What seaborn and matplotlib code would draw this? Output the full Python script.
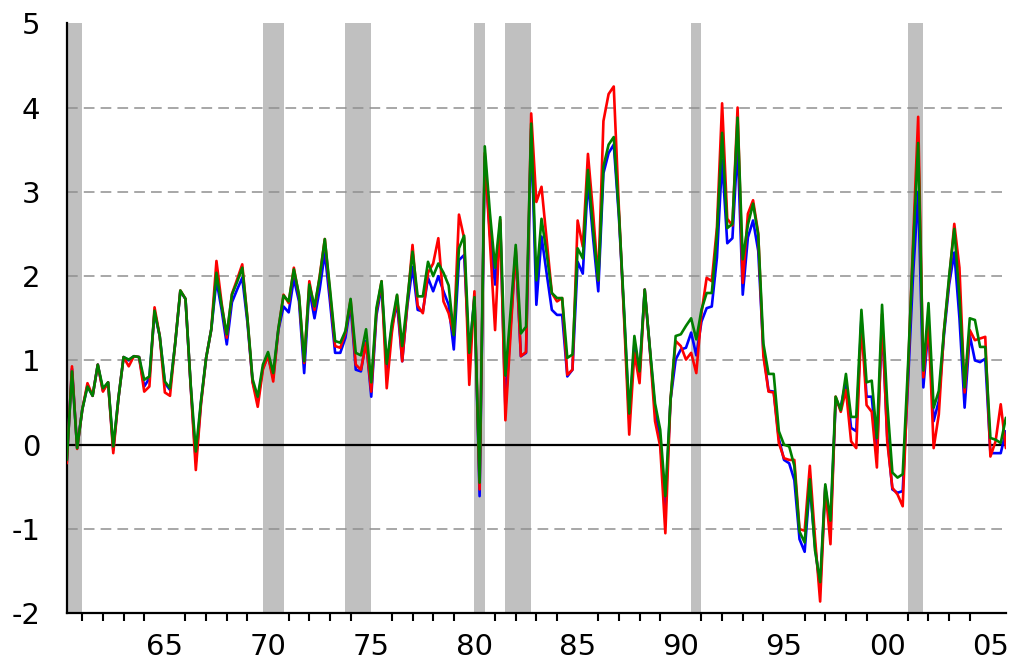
import numpy as np
import pandas as pd
import seaborn as sns
import matplotlib.pyplot as plt
from matplotlib.ticker import FixedLocator, FixedFormatter

# quarterly observations, 1960Q2 .. 2005Q4
first_quarter = 1960.25

blue = [-0.20, 0.90, -0.04, 0.42, 0.70, 0.58, 0.95, 0.64, 0.74, -0.06,
        0.55, 1.04, 1.00, 1.05, 1.04, 0.69, 0.79, 1.57, 1.29, 0.73,
        0.65, 1.20, 1.82, 1.73, 0.70, -0.20, 0.50, 1.03, 1.37, 1.95,
        1.60, 1.19, 1.69, 1.84, 1.98, 1.45, 0.75, 0.52, 0.91, 1.05,
        0.80, 1.36, 1.64, 1.57, 1.97, 1.70, 0.85, 1.84, 1.50, 1.84,
        2.28, 1.70, 1.09, 1.09, 1.27, 1.66, 0.89, 0.87, 1.23, 0.57,
        1.53, 1.88, 0.90, 1.40, 1.68, 0.99, 1.65, 2.11, 1.60, 1.58,
        1.98, 1.82, 2.00, 1.82, 1.66, 1.13, 2.19, 2.25, 1.05, 1.76,
        -0.61, 3.42, 2.50, 1.90, 2.63, 0.43, 1.40, 2.30, 1.05, 1.09,
        3.75, 1.66, 2.47, 2.03, 1.60, 1.54, 1.54, 0.81, 0.89, 2.17,
        2.03, 3.14, 2.45, 1.82, 3.22, 3.46, 3.56, 2.70, 1.55, 0.30,
        1.20, 0.85, 1.84, 1.13, 0.42, 0.06, -0.77, 0.53, 1.01, 1.13,
        1.15, 1.33, 1.06, 1.46, 1.62, 1.64, 2.22, 3.38, 2.39, 2.45,
        3.55, 1.78, 2.46, 2.66, 2.30, 1.10, 0.64, 0.63, 0.07, -0.18,
        -0.22, -0.42, -1.12, -1.27, -0.47, -1.20, -1.71, -0.50, -1.00, 0.50,
        0.45, 0.75, 0.20, 0.16, 1.50, 0.57, 0.57, -0.10, 1.45, 0.10,
        -0.53, -0.57, -0.55, 0.70, 2.00, 3.00, 0.68, 1.40, 0.28, 0.52,
        1.30, 1.90, 2.28, 1.50, 0.44, 1.30, 1.00, 0.98, 1.02, -0.10,
        -0.10, -0.10, 0.16]

red = [-0.22, 0.93, -0.05, 0.42, 0.73, 0.58, 0.95, 0.63, 0.74, -0.10,
       0.55, 1.04, 0.93, 1.05, 1.04, 0.63, 0.69, 1.63, 1.29, 0.62,
       0.58, 1.20, 1.83, 1.73, 0.70, -0.30, 0.48, 1.03, 1.37, 2.18,
       1.68, 1.27, 1.79, 1.96, 2.14, 1.50, 0.74, 0.45, 0.89, 1.06,
       0.75, 1.37, 1.78, 1.68, 2.10, 1.76, 0.97, 1.94, 1.60, 2.00,
       2.44, 1.80, 1.17, 1.15, 1.33, 1.72, 0.95, 0.89, 1.21, 0.63,
       1.58, 1.94, 0.67, 1.33, 1.77, 0.99, 1.68, 2.37, 1.65, 1.56,
       2.04, 2.15, 2.45, 1.70, 1.56, 1.31, 2.73, 2.45, 0.71, 1.82,
       -0.53, 3.46, 2.40, 1.36, 2.67, 0.29, 1.30, 2.33, 1.05, 1.10,
       3.93, 2.88, 3.06, 2.43, 1.80, 1.70, 1.74, 0.83, 0.89, 2.66,
       2.35, 3.45, 2.75, 1.95, 3.84, 4.16, 4.25, 2.80, 1.50, 0.12,
       1.09, 0.73, 1.84, 1.13, 0.28, -0.02, -1.05, 0.53, 1.23, 1.17,
       1.01, 1.09, 0.85, 1.56, 1.98, 1.94, 2.58, 4.05, 2.68, 2.60,
       4.00, 1.92, 2.74, 2.90, 2.51, 1.05, 0.63, 0.62, 0.02, -0.16,
       -0.18, -0.18, -1.00, -1.02, -0.25, -1.10, -1.86, -0.50, -1.18, 0.57,
       0.39, 0.65, 0.04, -0.04, 1.45, 0.47, 0.39, -0.27, 1.55, 0.04,
       -0.51, -0.59, -0.73, 0.80, 2.40, 3.89, 0.80, 1.45, -0.04, 0.36,
       1.35, 1.96, 2.62, 2.10, 0.62, 1.36, 1.24, 1.26, 1.28, -0.14,
       0.04, 0.48, -0.04]

green = [-0.18, 0.87, -0.04, 0.42, 0.69, 0.58, 0.95, 0.67, 0.74, -0.02,
         0.55, 1.04, 1.01, 1.05, 1.04, 0.77, 0.81, 1.59, 1.29, 0.75,
         0.67, 1.20, 1.83, 1.73, 0.72, -0.08, 0.52, 1.03, 1.37, 2.04,
         1.65, 1.31, 1.78, 1.93, 2.10, 1.50, 0.78, 0.57, 0.95, 1.10,
         0.85, 1.38, 1.77, 1.70, 2.08, 1.78, 0.99, 1.90, 1.64, 1.98,
         2.44, 1.85, 1.23, 1.21, 1.35, 1.73, 1.09, 1.06, 1.37, 0.74,
         1.62, 1.94, 0.96, 1.44, 1.78, 1.17, 1.72, 2.29, 1.76, 1.76,
         2.17, 2.00, 2.15, 2.04, 1.89, 1.30, 2.33, 2.48, 1.09, 1.75,
         -0.45, 3.54, 2.75, 2.10, 2.70, 0.82, 1.58, 2.37, 1.32, 1.40,
         3.81, 1.95, 2.68, 2.27, 1.80, 1.74, 1.74, 1.03, 1.07, 2.33,
         2.21, 3.26, 2.55, 1.95, 3.30, 3.56, 3.65, 2.75, 1.60, 0.37,
         1.29, 0.87, 1.84, 1.15, 0.49, 0.18, -0.61, 0.53, 1.29, 1.31,
         1.41, 1.50, 1.25, 1.60, 1.80, 1.80, 2.50, 3.70, 2.57, 2.62,
         3.88, 2.20, 2.61, 2.86, 2.49, 1.20, 0.84, 0.84, 0.16, 0.00,
         -0.02, -0.25, -1.03, -1.16, -0.41, -1.25, -1.63, -0.47, -0.90, 0.57,
         0.41, 0.84, 0.33, 0.33, 1.60, 0.74, 0.76, 0.08, 1.66, 0.50,
         -0.33, -0.39, -0.35, 0.90, 2.30, 3.58, 0.88, 1.68, 0.44, 0.64,
         1.35, 2.00, 2.56, 1.75, 0.68, 1.50, 1.48, 1.16, 1.16, 0.08,
         0.06, 0.02, 0.32]

# NBER recession spans (first quarter, last quarter)
recessions = [(1960.25, 1961.00), (1969.75, 1970.75), (1973.75, 1975.00),
              (1980.00, 1980.50), (1981.50, 1982.75), (1990.50, 1991.00),
              (2001.00, 2001.75)]

major_years = [1965, 1970, 1975, 1980, 1985, 1990, 1995, 2000, 2005]
major_labels = ['65', '70', '75', '80', '85', '90', '95', '00', '05']

n = len(blue)
t = first_quarter + 0.25 * np.arange(n)
df = pd.DataFrame({'t': np.concatenate([t, t, t]),
                   'v': blue + red + green,
                   's': ['b'] * n + ['r'] * n + ['g'] * n})

sns.set_style('white')
plt.rcParams['font.family'] = ['DejaVu Sans']
plt.rcParams['axes.unicode_minus'] = False

fig = plt.figure(figsize=(10.14, 6.66), dpi=100)
ax = fig.add_axes([0.0659, 0.0791, 0.9261, 0.8860])

for a, b in recessions:
    ax.axvspan(a, b, color='#c0c0c0', lw=0, zorder=0)

for y in [-1, 1, 2, 3, 4]:
    ax.axhline(y, color='#8f8f8f', lw=1.1, ls=(0, (7, 4)), zorder=1)
ax.axhline(0, color='black', lw=1.6, zorder=1)

sns.lineplot(data=df, x='t', y='v', hue='s',
             palette={'b': '#0000ff', 'r': '#ff0000', 'g': '#007f00'},
             hue_order=['b', 'r', 'g'], linewidth=1.9, legend=False, ax=ax, zorder=3)

ax.set_xlim(t[0], t[-1])
ax.set_ylim(-2, 5)
ax.set_xlabel('')
ax.set_ylabel('')

ax.xaxis.set_major_locator(FixedLocator(major_years))
ax.xaxis.set_major_formatter(FixedFormatter(major_labels))
ax.xaxis.set_minor_locator(FixedLocator(range(1961, 2006)))
ax.set_yticks(range(-2, 6))

ax.tick_params(axis='both', which='major', direction='out', length=10, width=1.5,
               color='black', labelsize=21, labelcolor='black')
ax.tick_params(axis='x', which='major', pad=4)
ax.tick_params(axis='y', which='major', pad=9)
ax.tick_params(axis='x', which='minor', direction='out', length=6, width=1.5,
               color='black', bottom=True)

for side in ['top', 'right']:
    ax.spines[side].set_visible(False)
for side in ['left', 'bottom']:
    ax.spines[side].set_color('black')
    ax.spines[side].set_linewidth(1.6)

fig.savefig('out.png', dpi=100)
